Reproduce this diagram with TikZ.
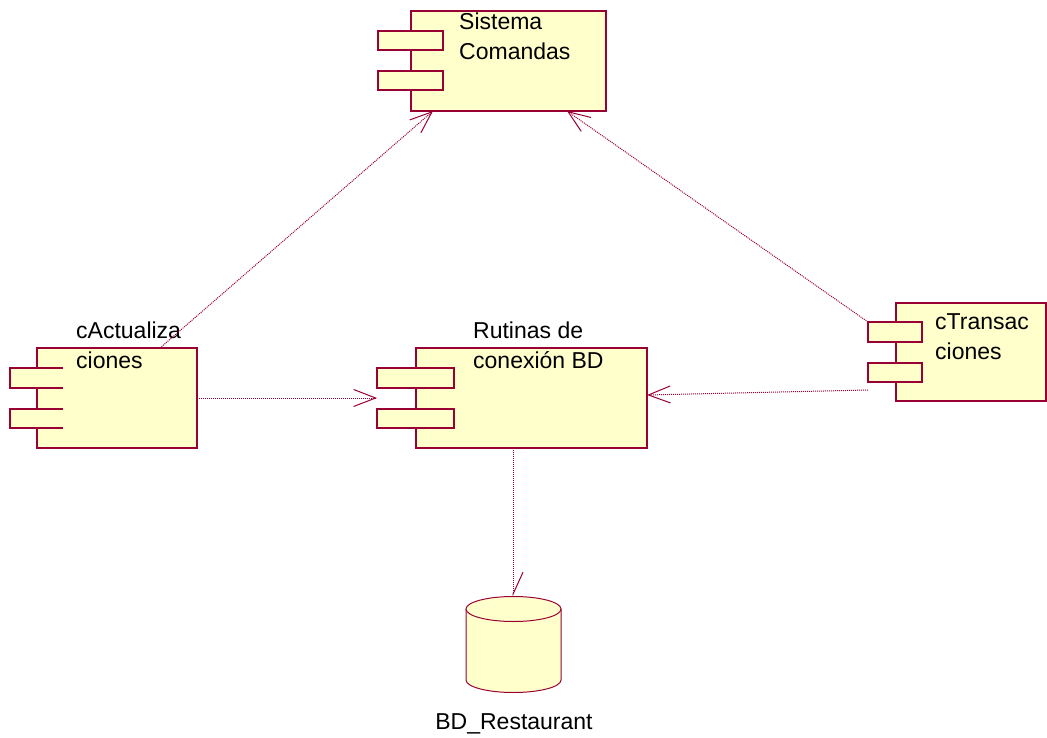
\documentclass[tikz,border=0pt]{standalone}
\usepackage{fontspec}
\setmainfont{Liberation Sans}
\usepackage{tikz}
\usetikzlibrary{arrows.meta}
\usetikzlibrary{calc}

\definecolor{roseline}{RGB}{153,0,51}
\definecolor{rosefill}{RGB}{255,255,204}

\begin{document}
\begin{tikzpicture}[x=1pt,y=-1pt,
    box/.style={draw=roseline,fill=rosefill,rectangle,inner sep=0pt,outer sep=0pt,anchor=north west},
    lbl/.style={anchor=base west,align=left,inner sep=0pt,font=\fontsize{23}{30}\selectfont},
    dep/.style={draw=roseline,densely dotted,line width=1pt},
    >={Straight Barb[length=22pt,width=17pt,line width=1pt]}]

  \useasboundingbox (0,0) rectangle (1047,738);

  % Sistema Comandas
  \node [box,line width=2pt,minimum width=195pt,minimum height=100pt] (sys) at (411,11) {};
  \node [box,line width=2pt,minimum width=65pt,minimum height=19pt] (sys_p1) at (378,31) {};
  \node [box,line width=2pt,minimum width=65pt,minimum height=19pt] (sys_p2) at (378,71) {};
  \node [lbl] (sys_lab) at (459,60) {Sistema\\Comandas};

  % cActualizaciones
  \node [box,line width=1.2pt,minimum width=160pt,minimum height=100pt] (act) at (37,348) {};
  \node [box,draw=none,minimum width=53pt,minimum height=20pt] (act_p1) at (10,368) {};
  \node [box,draw=none,minimum width=53pt,minimum height=19pt] (act_p2) at (10,409) {};
  \draw [roseline,line width=1.2pt] (act_p1.north east) -- (act_p1.north west) -- (act_p1.south west) -- (act_p1.south east);
  \draw [roseline,line width=1.2pt] (act_p2.north east) -- (act_p2.north west) -- (act_p2.south west) -- (act_p2.south east);
  \node [lbl] (act_lab) at (76,368) {cActualiza\\ciones};

  % Rutinas de conexion BD
  \node [box,line width=2.5pt,minimum width=231pt,minimum height=100pt] (rut) at (416,348) {};
  \node [box,line width=2.5pt,minimum width=77pt,minimum height=20pt] (rut_p1) at (377,368) {};
  \node [box,line width=2.5pt,minimum width=77pt,minimum height=19pt] (rut_p2) at (377,409) {};
  \node [lbl] (rut_lab) at (473,368) {Rutinas de\\conexión BD};

  % cTransacciones
  \node [box,line width=1.6pt,minimum width=150pt,minimum height=98pt] (trn) at (896,303) {};
  \node [box,line width=1.6pt,minimum width=54pt,minimum height=20pt] (trn_p1) at (868,322) {};
  \node [box,line width=1.6pt,minimum width=54pt,minimum height=19pt] (trn_p2) at (868,363) {};
  \node [lbl] (trn_lab) at (935,359) {cTransac\\ciones};

  % BD_Restaurant
  \path [fill=rosefill,draw=roseline,line width=1pt] (466,609) -- (466,680)
    arc [start angle=180,end angle=360,x radius=47.5pt,y radius=12.5pt] -- (561,609);
  \draw [roseline,fill=rosefill,line width=1pt] (513.5,609) ellipse [x radius=47.5pt,y radius=12.5pt];
  \coordinate (db_top) at (513,596.5);
  \node [lbl,anchor=base] (db_lab) at (514,729) {BD\_Restaurant};

  \path [dep,every edge/.append style={->}]
    ([xshift=43pt]act.north)     edge ([xshift=-75.5pt]sys.south)
    (trn_p1.north west)          edge ([xshift=58.5pt]sys.south)
    (act.east)                   edge (rut.west -| rut_p1.west)
    ([yshift=-8pt]trn_p2.south west) edge ([yshift=3pt]rut.east);

  \draw [dep,-{Straight Barb[harpoon,length=22pt,width=20pt,line width=1pt]}]
    (rut.south -| db_top) -- (db_top);
\end{tikzpicture}
\end{document}
